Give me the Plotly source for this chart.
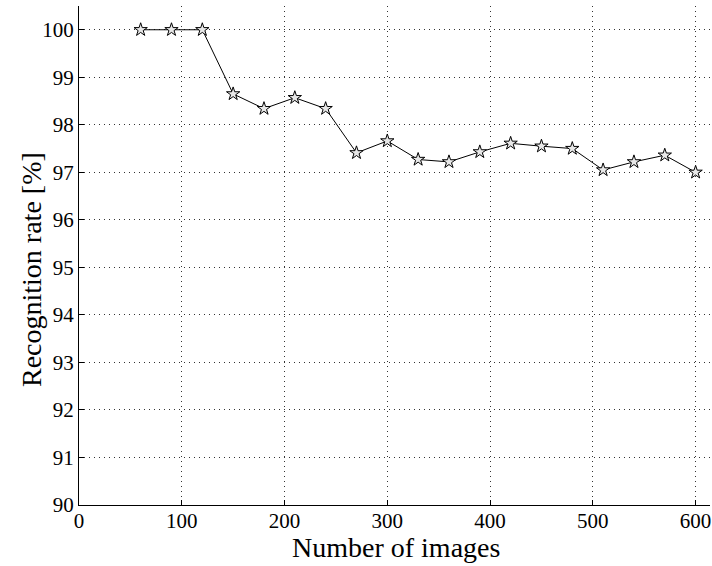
import plotly.graph_objects as go

num_images = [60, 90, 120, 150, 180, 210, 240, 270, 300, 330, 360, 390, 420, 450, 480, 510, 540, 570, 600]
recognition_rate = [100, 100, 100, 98.65, 98.34, 98.57, 98.34, 97.41, 97.66, 97.27, 97.22, 97.43,
                    97.61, 97.55, 97.50, 97.05, 97.22, 97.36, 97.0]
x_ticks = [0, 100, 200, 300, 400, 500, 600]
y_ticks = [90, 91, 92, 93, 94, 95, 96, 97, 98, 99, 100]
x_title = "Number of images"
y_title = "Recognition rate [%]"

font_family = "Liberation Serif"

W, H = 712, 566
L, R, T, B = 79, 2, 6, 61
pw, ph = W - L - R, H - T - B

fig = go.Figure()
fig.add_trace(go.Scatter(
    x=num_images, y=recognition_rate, mode="lines+markers",
    line=dict(color="black", width=1),
    marker=dict(symbol="star", size=10, color="#e8e8e8", line=dict(color="black", width=1)),
    showlegend=False,
))

axis_common = dict(
    ticks="inside", ticklen=5, tickcolor="black",
    showline=True, linecolor="black", linewidth=1, mirror=False,
    showgrid=True, gridcolor="#333333", griddash="1px,4px", gridwidth=1, zeroline=False,
    tickfont=dict(size=21, family=font_family, color="black"),
    automargin=False,
)

fig.update_layout(
    width=W, height=H,
    margin=dict(l=L, r=R, t=T, b=B),
    paper_bgcolor="white", plot_bgcolor="white",
    font=dict(family=font_family, color="black", size=21),
    xaxis=dict(range=[0, 614], tickvals=x_ticks, ticklabelstandoff=-3, **axis_common),
    yaxis=dict(range=[90, 100.5], tickvals=y_ticks, **axis_common),
    annotations=[
        dict(text=x_title, xref="paper", yref="paper",
             x=(395.5 - L) / pw, y=(H - B - 547) / ph,
             xanchor="center", yanchor="middle", showarrow=False,
             font=dict(size=28, family=font_family, color="black")),
        dict(text=y_title, xref="paper", yref="paper", textangle=-90,
             x=(31 - L) / pw, y=(H - B - 270) / ph,
             xanchor="center", yanchor="middle", showarrow=False,
             font=dict(size=28, family=font_family, color="black")),
    ],
)

fig.write_html("out.html", config={"displayModeBar": False},
               post_script="document.body.style.margin='0px';")
